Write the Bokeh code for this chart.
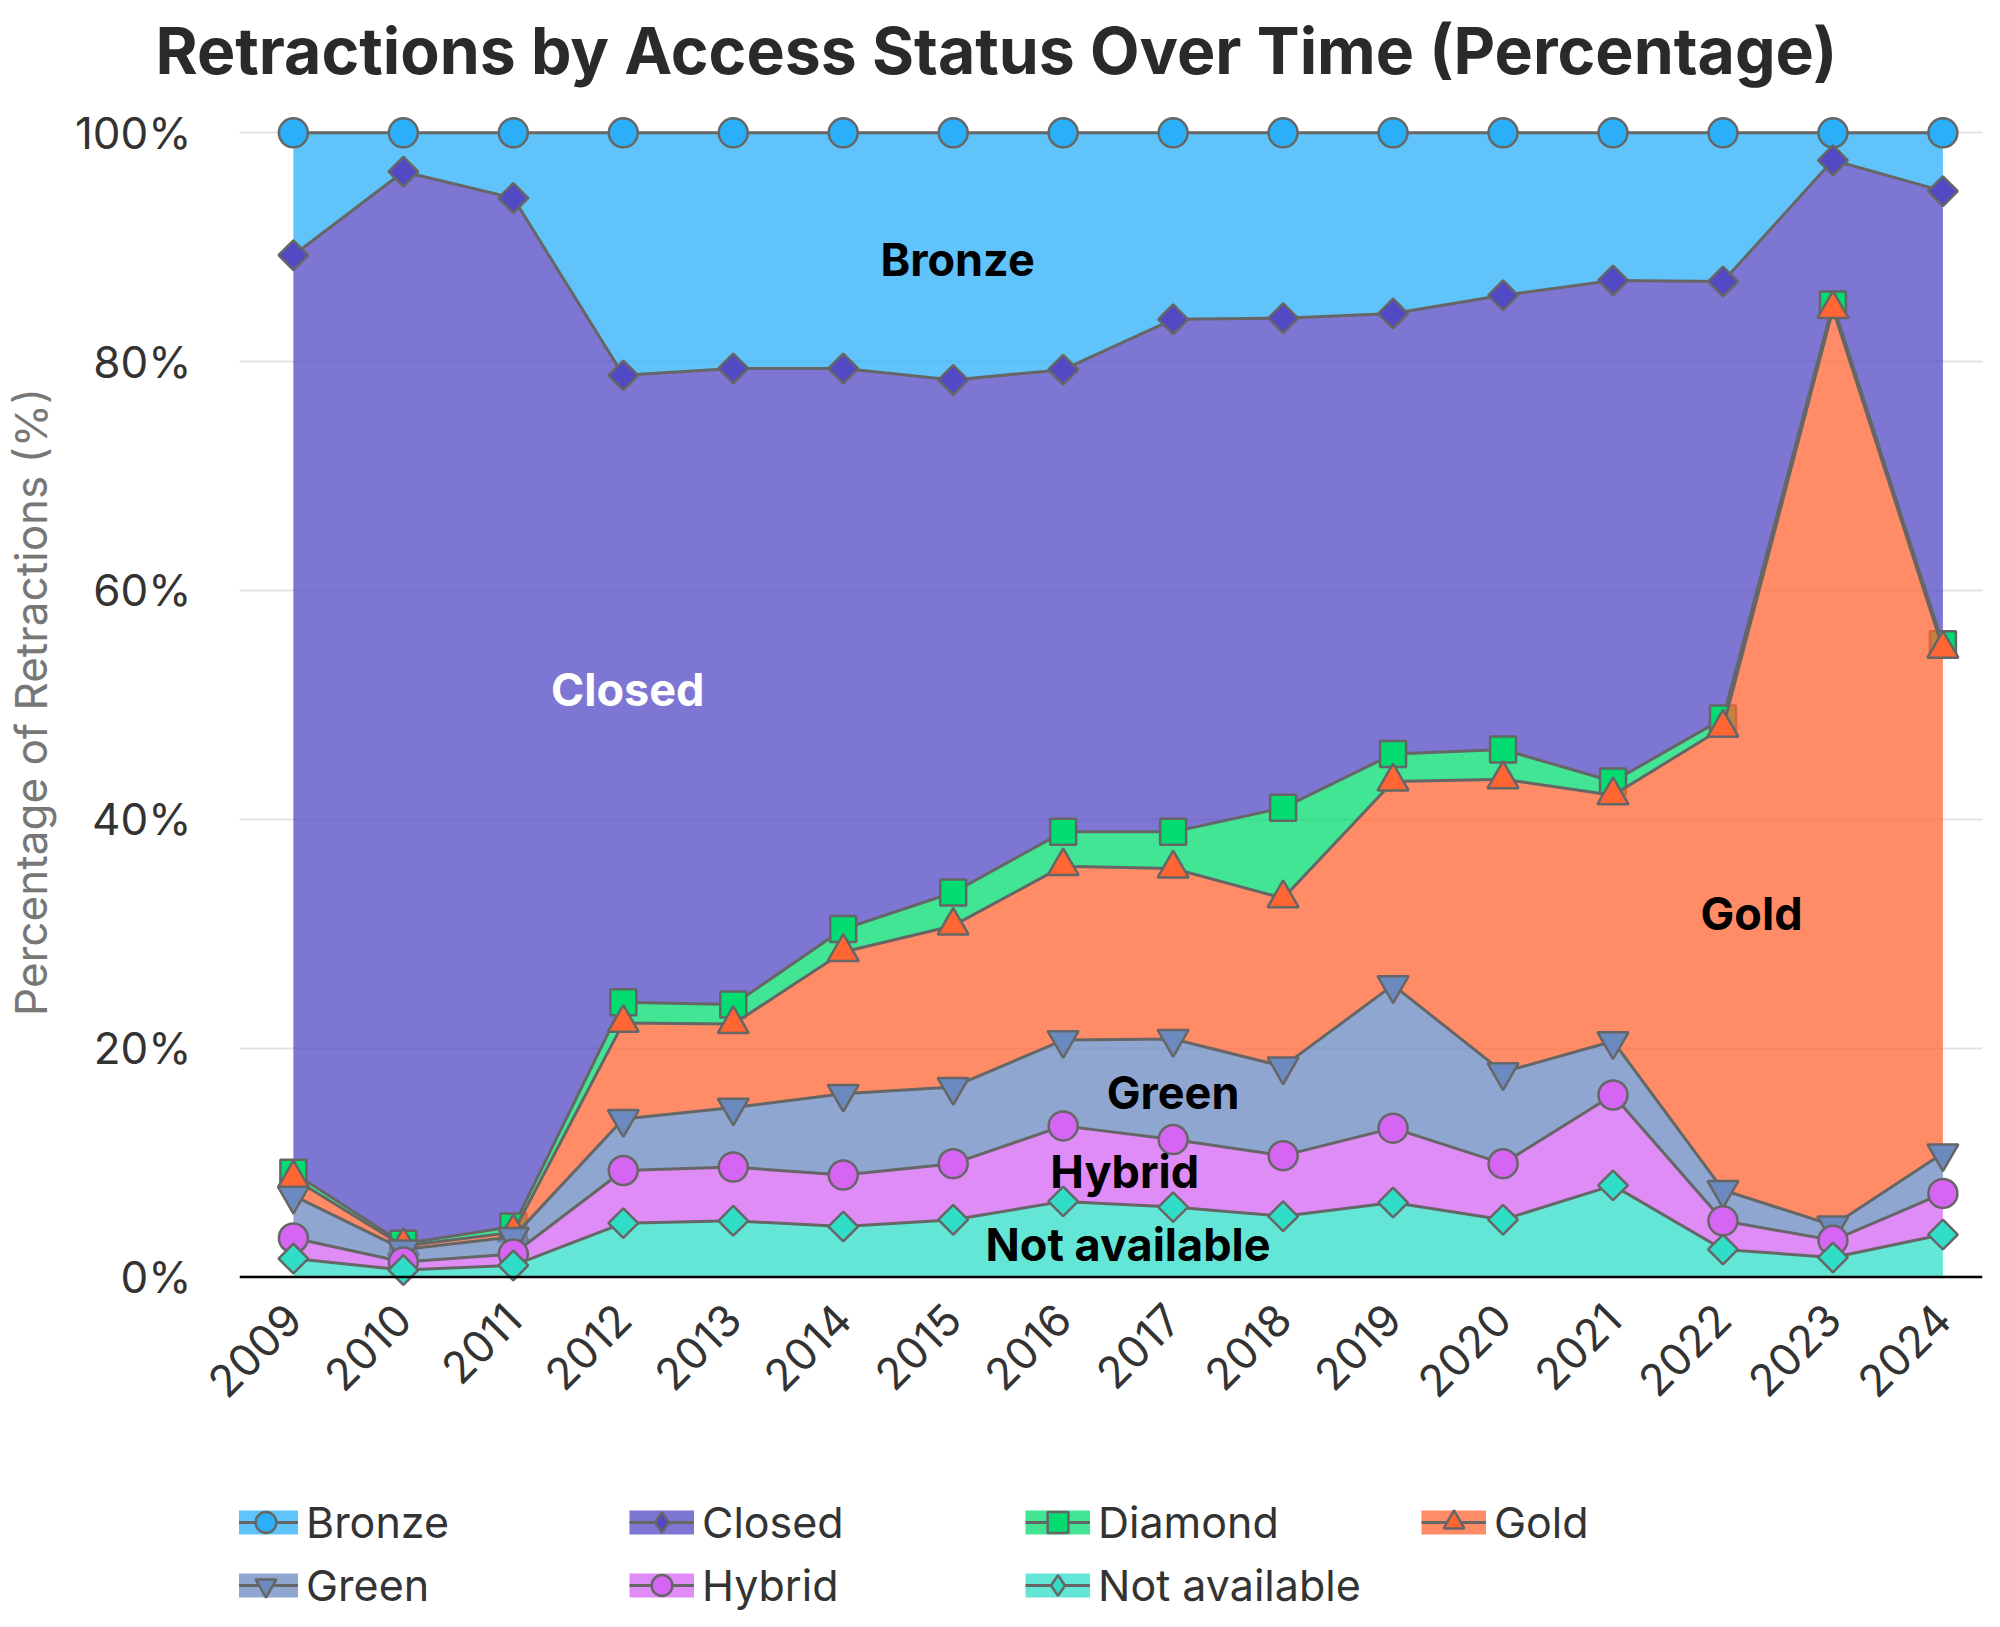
import math
from bokeh.plotting import figure
from bokeh.layouts import column
from bokeh.models import (ColumnDataSource, FixedTicker, Span, Label, Legend,
                          LegendItem, Range1d)
from bokeh.transform import stack
from bokeh.embed import file_html
from bokeh.resources import INLINE

# ---------------- data (percent of retractions per access status) ----------------
years = [2009, 2010, 2011, 2012, 2013, 2014, 2015, 2016,
         2017, 2018, 2019, 2020, 2021, 2022, 2023, 2024]
not_available = [1.6, 0.6, 1.0, 4.7, 4.9, 4.4, 5.0, 6.6, 6.1, 5.3, 6.5, 5.0, 8.0, 2.4, 1.7, 3.7]
hybrid        = [1.8, 0.7, 1.0, 4.6, 4.7, 4.5, 4.9, 6.6, 5.9, 5.3, 6.5, 4.9, 7.9, 2.5, 1.5, 3.6]
green         = [3.7, 1.1, 1.5, 4.5, 5.2, 7.1, 6.7, 7.5, 8.8, 7.8, 12.5, 8.0, 4.7, 2.7, 1.3, 3.5]
gold          = [1.5, 0.3, 0.4, 8.4, 7.3, 12.4, 14.1, 15.2, 14.9, 14.7, 17.8, 25.6, 21.5, 40.4, 80.1, 44.1]
diamond       = [0.5, 0.2, 0.5, 1.8, 1.7, 2.0, 2.9, 3.0, 3.2, 7.9, 2.4, 2.6, 1.2, 0.8, 0.4, 0.4]
closed        = [80.2, 93.7, 89.9, 54.8, 55.6, 49.0, 44.8, 40.4, 44.8, 42.8, 38.5, 39.7, 43.8, 38.2, 12.6, 39.6]
bronze        = [10.7, 3.4, 5.7, 21.2, 20.6, 20.6, 21.6, 20.7, 16.3, 16.2, 15.8, 14.2, 12.9, 13.0, 2.4, 5.1]

series_names = ["Bronze", "Closed", "Diamond", "Gold", "Green", "Hybrid", "Not available"]
series_cols = ["bronze", "closed", "diamond", "gold", "green", "hybrid", "not_available"]
series_colors = ["#2BAFF8", "#5249C4", "#02DC70", "#FF6633", "#6A8AC0", "#D665F4", "#30DEC8"]
# stacking order, bottom to top
stack_order = ["not_available", "hybrid", "green", "gold", "diamond", "closed", "bronze"]

y_ticks = [0, 20, 40, 60, 80, 100]
y_tick_labels = ["0%", "20%", "40%", "60%", "80%", "100%"]
x_tick_labels = [str(y) for y in years]

source = ColumnDataSource(dict(year=years, bronze=bronze, closed=closed, diamond=diamond,
                               gold=gold, green=green, hybrid=hybrid,
                               not_available=not_available))

FONT = "Inter"
TXT = "#333333"
EDGE = "#666666"

p = figure(width=1984, height=1440, output_backend="svg", toolbar_location=None,
           x_range=Range1d(2008.51, 2024.36), y_range=Range1d(-2.5, 103),
           min_border_left=234, min_border_right=2, min_border_top=96,
           min_border_bottom=135)
p.outline_line_color = None
p.background_fill_color = "white"

# title
p.title.text = "Retractions by Access Status Over Time (Percentage)"
p.title.text_font = FONT
p.title.text_font_size = "64.3px"
p.title.text_font_style = "bold"
p.title.text_color = "#2a2a2a"
p.title.align = "left"
p.title.offset = -84
p.title.standoff = 18

# grid
p.xgrid.grid_line_color = None
p.ygrid.ticker = FixedTicker(ticks=y_ticks)
p.ygrid.grid_line_color = "#e3e3e3"
p.ygrid.grid_line_width = 2

# axes
p.xaxis.ticker = FixedTicker(ticks=years)
p.xaxis.major_label_overrides = {y: lab for y, lab in zip(years, x_tick_labels)}
p.xaxis.major_label_orientation = math.pi / 4
p.yaxis.ticker = FixedTicker(ticks=y_ticks)
p.yaxis.major_label_overrides = {t: lab for t, lab in zip(y_ticks, y_tick_labels)}
for ax in (p.xaxis, p.yaxis):
    ax.axis_line_color = None
    ax.major_tick_line_color = None
    ax.minor_tick_line_color = None
    ax.major_label_text_font = FONT
    ax.major_label_text_font_size = "44px"
    ax.major_label_text_color = TXT
p.xaxis.major_label_standoff = 0
p.yaxis.major_label_standoff = 42
p.yaxis.axis_label = "Percentage of Retractions (%)"
p.yaxis.axis_label_text_font = FONT
p.yaxis.axis_label_text_font_size = "44px"
p.yaxis.axis_label_text_font_style = "normal"
p.yaxis.axis_label_text_color = "#777777"
p.yaxis.axis_label_standoff = 14

# stacked series: area, line, markers (drawn in legend order)
marker_specs = {
    "bronze": dict(marker="circle", size=29, angle=0.0, legend_marker="circle"),
    "closed": dict(marker="square", size=21, angle=math.pi / 4, legend_marker="diamond"),
    "diamond": dict(marker="square", size=26, angle=0.0, legend_marker="square"),
    "gold": dict(marker="triangle", size=31, angle=0.0, legend_marker="triangle"),
    "green": dict(marker="inverted_triangle", size=31, angle=0.0,
                  legend_marker="inverted_triangle"),
    "hybrid": dict(marker="circle", size=29, angle=0.0, legend_marker="circle"),
    "not_available": dict(marker="square", size=21, angle=math.pi / 4,
                          legend_marker="diamond"),
}

for name, col, color in zip(series_names, series_cols, series_colors):
    idx = stack_order.index(col)
    upper = stack(*stack_order[:idx + 1])
    lower = stack(*stack_order[:idx]) if idx > 0 else 0
    p.varea(x="year", y1=lower, y2=upper, source=source,
            fill_color=color, fill_alpha=0.75)
    p.line(x="year", y=upper, source=source, line_color=EDGE, line_width=3)
    ms = marker_specs[col]
    p.scatter(x="year", y=upper, source=source, marker=ms["marker"],
              size=ms["size"], angle=ms["angle"], fill_color=color,
              line_color=EDGE, line_width=2.5)

# baseline
p.add_layout(Span(location=0, dimension="width", line_color="black", line_width=2.5))

# in-area labels
area_labels = [
    ("Bronze", 2015.04, 88.9, "black"),
    ("Closed", 2012.04, 51.3, "white"),
    ("Gold", 2022.26, 31.8, "black"),
    ("Green", 2017.0, 16.1, "black"),
    ("Hybrid", 2016.56, 9.2, "black"),
    ("Not available", 2016.59, 2.85, "black"),
]
for text, lx, ly, tc in area_labels:
    p.add_layout(Label(x=lx, y=ly, text=text, text_font=FONT, text_font_size="45px",
                       text_font_style="bold", text_color=tc, text_align="center",
                       text_baseline="middle"))

# ---------------- legend strip (legend-only glyphs, kept off-view) ----------------
lg = figure(width=1984, height=171, output_backend="svg", toolbar_location=None,
            x_range=Range1d(0, 1), y_range=Range1d(0, 1),
            x_axis_type=None, y_axis_type=None,
            min_border_left=0, min_border_right=0, min_border_top=0,
            min_border_bottom=0)
lg.outline_line_color = None
lg.xgrid.visible = False
lg.ygrid.visible = False

offview = dict(x=[-10.0], y=[-10.0])
legend_items = []
for name, col, color in zip(series_names, series_cols, series_colors):
    ms = marker_specs[col]
    band = lg.line(x="x", y="y", source=ColumnDataSource(offview),
                   line_color=color, line_alpha=0.75, line_width=24)
    edge = lg.line(x="x", y="y", source=ColumnDataSource(offview),
                   line_color=EDGE, line_width=3)
    mk = lg.scatter(x="x", y="y", source=ColumnDataSource(offview),
                    marker=ms["legend_marker"], fill_color=color,
                    line_color=EDGE, line_width=2.5)
    legend_items.append(LegendItem(label=name, renderers=[band, edge, mk]))

legend = Legend(items=legend_items, location=(-6, 0), orientation="horizontal",
                ncols=4, glyph_width=65, glyph_height=52, label_standoff=8,
                label_width=312, spacing=11, padding=0, margin=0,
                label_text_font=FONT, label_text_font_size="43px",
                label_text_color=TXT, border_line_alpha=0,
                background_fill_alpha=0)
lg.add_layout(legend)

layout = column(p, lg, spacing=0)
open("out.html", "w").write(file_html(layout, INLINE))
